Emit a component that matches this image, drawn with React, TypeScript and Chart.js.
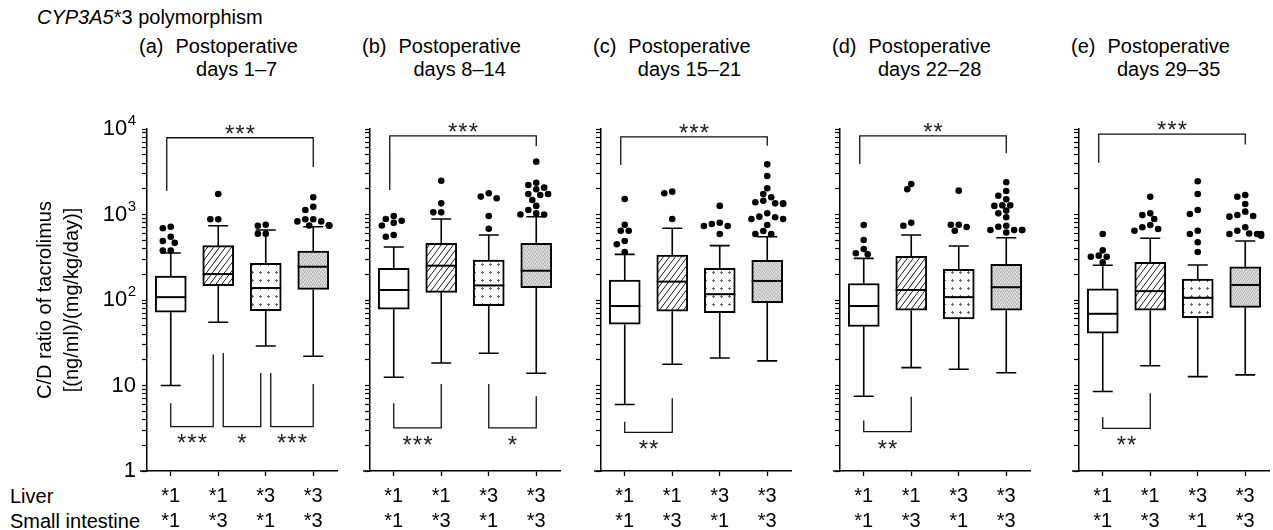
import React, { useEffect, useRef } from 'react';
import { Chart, registerables } from 'chart.js';

Chart.register(...registerables);

const FONT = '"Liberation Sans", Arial, Helvetica, sans-serif';

// ---------------- data ----------------
const liverGenotype = ['*1', '*1', '*3', '*3'];
const intestineGenotype = ['*1', '*3', '*1', '*3'];
const panelLetters = ['(a)', '(b)', '(c)', '(d)', '(e)'];
const periodLabels = ['days 1–7', 'days 8–14', 'days 15–21', 'days 22–28', 'days 29–35'];
const yMajorTicks = [1, 10, 100, 1000, 10000];

// [lower whisker, Q1, median, Q3, upper whisker] for each genotype group
const boxesDays1to7 = [[10, 72, 108, 191, 355], [55, 147, 201, 432, 740], [29, 75, 138, 269, 660], [22, 133, 245, 374, 720]];
const boxesDays8to14 = [[12.5, 78, 131, 235, 417], [18.3, 123, 252, 460, 885], [23.8, 86, 148, 294, 575], [13.9, 139, 220, 460, 942]];
const boxesDays15to21 = [[6.0, 52, 85, 171, 342], [17.7, 74, 164, 336, 690], [21, 71, 117, 235, 432], [19.4, 93, 167, 291, 550]];
const boxesDays22to28 = [[7.5, 49, 85, 156, 307], [16.2, 76, 131, 324, 576], [15.5, 60, 108, 229, 428], [14.1, 76, 141, 262, 535]];
const boxesDays29to35 = [[8.5, 41, 69, 135, 255], [17, 76, 127, 276, 527], [12.7, 62, 106, 176, 257], [13.3, 82, 150, 245, 490]];

// outlying values for each genotype group
const outliersDays1to7 = [
  [378, 378, 468, 490, 550, 690, 720],
  [880, 880, 1740],
  [596, 596, 740, 760],
  [745, 745, 745, 745, 745, 830, 830, 880, 880, 1130, 1230, 1590],
];
const outliersDays8to14 = [
  [550, 575, 745, 800, 845, 885, 960],
  [1060, 1060, 1350, 2485],
  [680, 960, 1550, 1620, 1770],
  [1000, 1000, 1030, 1130, 1260, 1480, 1690, 1740, 1740, 1970, 2060, 2215, 2355, 4150],
];
const outliersDays15to21 = [
  [364, 448, 490, 646, 646, 760, 1520],
  [886, 1770, 1850],
  [592, 733, 733, 775, 800, 1260],
  [592, 592, 641, 754, 886, 886, 927, 944, 1033, 1327, 1350, 1350, 1390, 1450, 1590, 1740, 2025, 2820, 3860],
];
const outliersDays22to28 = [
  [342, 352, 395, 503, 754],
  [740, 800, 1970, 2275],
  [646, 714, 760, 760, 1900],
  [617, 660, 660, 660, 660, 720, 740, 927, 1032, 1110, 1260, 1280, 1280, 1505, 1660, 1885, 2380],
];
const outliersDays29to35 = [
  [276, 321, 321, 330, 381, 592],
  [646, 676, 708, 754, 886, 986, 1032, 1615],
  [364, 473, 592, 646, 1014, 1130, 1740, 2445],
  [565, 592, 592, 592, 600, 646, 708, 944, 960, 986, 1080, 1327, 1615, 1690],
];

// significance brackets: [from group, to group, bar level, left leg end, right leg end, label]
const bracketsDays1to7 = [[0, 3, 7900, 1900, 3600, '***'], [0, 1, 3.3, 6.2, 23, '***'], [1, 2, 3.3, 24, 14, '*'], [2, 3, 3.3, 14, 10.4, '***']];
const bracketsDays8to14 = [[0, 3, 8300, 1940, 6300, '***'], [0, 1, 3.2, 6.2, 10.4, '***'], [2, 3, 3.2, 10.4, 7.5, '*']];
const bracketsDays15to21 = [[0, 3, 8100, 3800, 6380, '***'], [0, 1, 2.83, 3.77, 7.1, '**']];
const bracketsDays22to28 = [[0, 3, 8300, 3900, 5190, '**'], [0, 1, 2.88, 3.9, 7.4, '**']];
const bracketsDays29to35 = [[0, 3, 8700, 4030, 6600, '***'], [0, 1, 3.16, 4.25, 8.1, '**']];

const boxSets = [boxesDays1to7, boxesDays8to14, boxesDays15to21, boxesDays22to28, boxesDays29to35];
const outlierSets = [outliersDays1to7, outliersDays8to14, outliersDays15to21, outliersDays22to28, outliersDays29to35];
const bracketSets = [bracketsDays1to7, bracketsDays8to14, bracketsDays15to21, bracketsDays22to28, bracketsDays29to35];

// ---------------- layout ----------------
const AXIS_X = [147, 370, 601, 840, 1079];
const PLOT_TOP = 129;
const PLOT_W = 192;
const PLOT_H = 342;
const CANVAS_TOP = 100;
const CANVAS_H = 430;

function makeFill(kind: string): any {
  if (kind === 'white') return '#ffffff';
  const c = document.createElement('canvas');
  const g = c.getContext('2d') as CanvasRenderingContext2D;
  if (kind === 'hatch') {
    c.width = 6; c.height = 8;
    g.fillStyle = '#fff'; g.fillRect(0, 0, 6, 8);
    g.strokeStyle = '#1a1a1a'; g.lineWidth = 1;
    g.beginPath();
    for (const dx of [-6, 0, 6]) { g.moveTo(dx, 8); g.lineTo(dx + 6, 0); }
    g.stroke();
  } else if (kind === 'dots') {
    c.width = 8; c.height = 8;
    g.fillStyle = '#fff'; g.fillRect(0, 0, 8, 8);
    g.fillStyle = '#666';
    g.fillRect(3, 4, 3, 1);
    g.fillRect(4, 3, 1, 3);
  } else {
    c.width = 4; c.height = 4;
    g.fillStyle = '#d0d0d0'; g.fillRect(0, 0, 4, 4);
    g.fillStyle = '#b0b0b0';
    g.fillRect(0, 0, 1, 1); g.fillRect(2, 1, 1, 1); g.fillRect(1, 3, 1, 1); g.fillRect(3, 2, 1, 1);
    g.fillStyle = '#e4e4e4';
    g.fillRect(1, 1, 1, 1); g.fillRect(3, 0, 1, 1); g.fillRect(0, 2, 1, 1); g.fillRect(2, 3, 1, 1);
  }
  return g.createPattern(c, 'repeat');
}

// spread outliers that would overlap sideways (beeswarm-style)
function dodgeOutliers(values: number[], catPx: number, decadePx: number): number[] {
  const steps = [0, -4, 4, -8, 8, -12, 12, -16, 16];
  const placed: { dx: number; ly: number }[] = [];
  const order = values.map((_, i) => i).sort((a, b) => values[b] - values[a]);
  const result = new Array(values.length).fill(0);
  for (const i of order) {
    const ly = Math.log10(values[i]) * decadePx;
    let chosen = steps[steps.length - 1];
    for (const s of steps) {
      if (placed.every((p) => Math.hypot(p.dx - s, p.ly - ly) >= 6.6)) { chosen = s; break; }
    }
    placed.push({ dx: chosen, ly });
    result[i] = chosen / catPx;
  }
  return result;
}

const boxPlotPlugin = {
  id: 'boxPlotExtras',
  beforeDatasetsDraw(chart: any, _args: any, opts: any) {
    const { ctx, scales: { x, y } } = chart;
    ctx.save();
    ctx.strokeStyle = '#000';
    ctx.lineWidth = 1.6;
    opts.stats.forEach((s: number[], i: number) => {
      const cx = x.getPixelForValue(i);
      const [lo, q1, , q3, hi] = s;
      const capHalf = 10;
      ctx.beginPath();
      ctx.moveTo(cx, y.getPixelForValue(q1));
      ctx.lineTo(cx, y.getPixelForValue(lo));
      ctx.moveTo(cx - capHalf, y.getPixelForValue(lo));
      ctx.lineTo(cx + capHalf, y.getPixelForValue(lo));
      ctx.moveTo(cx, y.getPixelForValue(q3));
      ctx.lineTo(cx, y.getPixelForValue(hi));
      ctx.moveTo(cx - capHalf, y.getPixelForValue(hi));
      ctx.lineTo(cx + capHalf, y.getPixelForValue(hi));
      ctx.stroke();
    });
    ctx.restore();
  },
  afterDatasetsDraw(chart: any, _args: any, opts: any) {
    const { ctx, scales: { x, y } } = chart;
    const meta = chart.getDatasetMeta(0);
    ctx.save();
    ctx.strokeStyle = '#000';
    ctx.lineWidth = 2;
    opts.stats.forEach((s: number[], i: number) => {
      const bar = meta.data[i];
      const py = y.getPixelForValue(s[2]);
      ctx.beginPath();
      ctx.moveTo(bar.x - bar.width / 2, py);
      ctx.lineTo(bar.x + bar.width / 2, py);
      ctx.stroke();
    });
    // significance brackets
    const br = opts.brackets as any[];
    ctx.lineWidth = 1.3;
    ctx.strokeStyle = '#111';
    br.forEach((b) => {
      const [from, to, level, leftEnd, rightEnd, label] = b;
      const low = level < leftEnd;
      const same = br.filter((o) => o !== b && (o[2] < o[3]) === low);
      const nudgeL = low ? (same.some((o) => o[1] === from) ? 5 : 0) : -4;
      const nudgeR = same.some((o) => o[0] === to) ? -5 : 0;
      const xl = x.getPixelForValue(from) + nudgeL;
      const xr = x.getPixelForValue(to) + nudgeR;
      const yb = y.getPixelForValue(level);
      ctx.beginPath();
      ctx.moveTo(xl, y.getPixelForValue(leftEnd));
      ctx.lineTo(xl, yb);
      ctx.lineTo(xr, yb);
      ctx.lineTo(xr, y.getPixelForValue(rightEnd));
      ctx.stroke();
      const fs = 24;
      ctx.font = `${fs}px ${FONT}`;
      (ctx as any).letterSpacing = '1px';
      ctx.fillStyle = '#222';
      ctx.textAlign = 'center';
      ctx.textBaseline = 'alphabetic';
      const cy = low ? yb + 11 : yb - 10;
      ctx.fillText(label, (xl + xr) / 2 + 0.5, cy + 0.575 * fs);
      (ctx as any).letterSpacing = '0px';
    });
    ctx.restore();
  },
  afterDraw(chart: any, _args: any, opts: any) {
    const { ctx, chartArea, scales: { y } } = chart;
    ctx.save();
    ctx.strokeStyle = '#000';
    ctx.lineWidth = 1.5;
    ctx.beginPath();
    ctx.moveTo(chartArea.left - 7, chartArea.bottom);
    ctx.lineTo(chartArea.left, chartArea.bottom);
    ctx.stroke();
    if (opts.yLabels) {
      const right = chartArea.left - 11;
      ctx.fillStyle = '#000';
      ctx.textBaseline = 'middle';
      ctx.textAlign = 'right';
      yMajorTicks.forEach((v) => {
        const py = y.getPixelForValue(v);
        const exp = Math.round(Math.log10(v));
        if (exp >= 2) {
          ctx.font = `15px ${FONT}`;
          const ew = ctx.measureText(String(exp)).width;
          ctx.fillText(String(exp), right, py - 8);
          ctx.font = `22px ${FONT}`;
          ctx.fillText('10', right - ew - 0.5, py);
        } else {
          ctx.font = `22px ${FONT}`;
          ctx.fillText(String(v), right, py);
        }
      });
    }
    ctx.restore();
  },
};

function Panel({ index }: { index: number }) {
  const ref = useRef<HTMLCanvasElement>(null);
  const yWidth = index === 0 ? AXIS_X[0] : 12;
  const width = yWidth + PLOT_W + 2;
  const left = AXIS_X[index] - yWidth;

  useEffect(() => {
    const canvas = ref.current as HTMLCanvasElement;
    const stats = boxSets[index];
    const outl = outlierSets[index];
    const fills = ['white', 'hatch', 'dots', 'gray'].map(makeFill);
    const catPx = PLOT_W / 4;
    const decadePx = PLOT_H / 4;
    const points: { x: number; y: number }[] = [];
    outl.forEach((vals, g) => {
      const offs = dodgeOutliers(vals, catPx, decadePx);
      vals.forEach((v, k) => points.push({ x: g + offs[k], y: v }));
    });

    const chart = new Chart(canvas, {
      type: 'bar',
      data: {
        datasets: [
          {
            type: 'bar',
            data: stats.map((s, i) => ({ x: i, y: [s[1], s[3]] })) as any,
            backgroundColor: fills,
            borderColor: '#000',
            borderWidth: 2,
            borderSkipped: false,
            barThickness: 31,
            order: 1,
          } as any,
          {
            type: 'scatter',
            data: points,
            pointRadius: 3.3,
            pointBackgroundColor: '#000',
            pointBorderWidth: 0,
            order: 0,
          } as any,
        ],
      },
      options: {
        animation: false,
        responsive: false,
        maintainAspectRatio: false,
        events: [],
        layout: { padding: { top: PLOT_TOP - CANVAS_TOP, right: 2, left: 0, bottom: 0 } },
        plugins: {
          legend: { display: false },
          tooltip: { enabled: false },
          title: { display: false },
          boxPlotExtras: { stats, brackets: bracketSets[index], yLabels: index === 0 },
        } as any,
        scales: {
          x: {
            type: 'linear',
            min: -0.5,
            max: 3.5,
            offset: false,
            afterBuildTicks: (s: any) => { s.ticks = [0, 1, 2, 3].map((v) => ({ value: v })); },
            afterFit: (s: any) => { s.height = CANVAS_H - (PLOT_TOP - CANVAS_TOP) - PLOT_H; },
            grid: { display: true, drawOnChartArea: false, drawTicks: true, tickLength: 5, color: '#000', tickColor: '#000', tickWidth: 1.3, offset: false },
            border: { display: true, color: '#000', width: 1.5 },
            ticks: {
              autoSkip: false,
              maxRotation: 0,
              padding: 8,
              color: '#000',
              font: { family: FONT, size: 20, lineHeight: 1.25 },
              callback: (v: any) => [liverGenotype[v], intestineGenotype[v]],
            },
          },
          y: {
            type: 'logarithmic',
            min: 1,
            max: 10000,
            afterBuildTicks: (s: any) => {
              const t: any[] = [];
              for (let e = 0; e < 4; e++) for (let m = 1; m < 10; m++) t.push({ value: m * Math.pow(10, e), major: m === 1 });
              t.push({ value: 10000, major: true });
              s.ticks = t;
            },
            afterFit: (s: any) => { s.width = yWidth; },
            grid: { display: true, drawOnChartArea: false, drawTicks: true, tickLength: 5, color: '#000', tickColor: '#000', tickWidth: 1.2 },
            border: { display: true, color: '#000', width: 1.5 },
            ticks: { display: false },
            title: index === 0
              ? {
                display: true,
                text: ['C/D ratio of tacrolimus', '[(ng/ml)/(mg/kg/day)]'],
                color: '#000',
                font: { family: FONT, size: 20, lineHeight: 1.35 },
                padding: { top: 32, bottom: 0 },
              }
              : { display: false },
          },
        } as any,
      },
      plugins: [boxPlotPlugin as any],
    });
    return () => chart.destroy();
  }, [index]);

  return (
    <canvas
      ref={ref}
      width={width}
      height={CANVAS_H}
      style={{ position: 'absolute', left, top: CANVAS_TOP, width, height: CANVAS_H, display: 'block' }}
    />
  );
}

export default function App() {
  return (
    <div style={{ position: 'fixed', left: 0, top: 0, width: 1273, height: 530, background: '#fff', overflow: 'hidden', fontFamily: FONT, color: '#000' }}>
      <div style={{ position: 'absolute', left: 37, top: 5, fontSize: 20, lineHeight: '24px', whiteSpace: 'nowrap' }}>
        <i>CYP3A5</i>*3 polymorphism
      </div>
      {panelLetters.map((letter, i) => (
        <div key={letter} style={{ position: 'absolute', left: AXIS_X[i] - 8, top: 35, display: 'flex', fontSize: 20, lineHeight: '23px', whiteSpace: 'nowrap' }}>
          <span>{letter}</span>
          <div style={{ marginLeft: 12, textAlign: 'center' }}>
            Postoperative<br />{periodLabels[i]}
          </div>
        </div>
      ))}
      <div style={{ position: 'absolute', left: 10, top: 484, fontSize: 20, lineHeight: '25px', whiteSpace: 'nowrap' }}>
        Liver<br />Small intestine
      </div>
      {[0, 1, 2, 3, 4].map((i) => <Panel key={i} index={i} />)}
    </div>
  );
}
